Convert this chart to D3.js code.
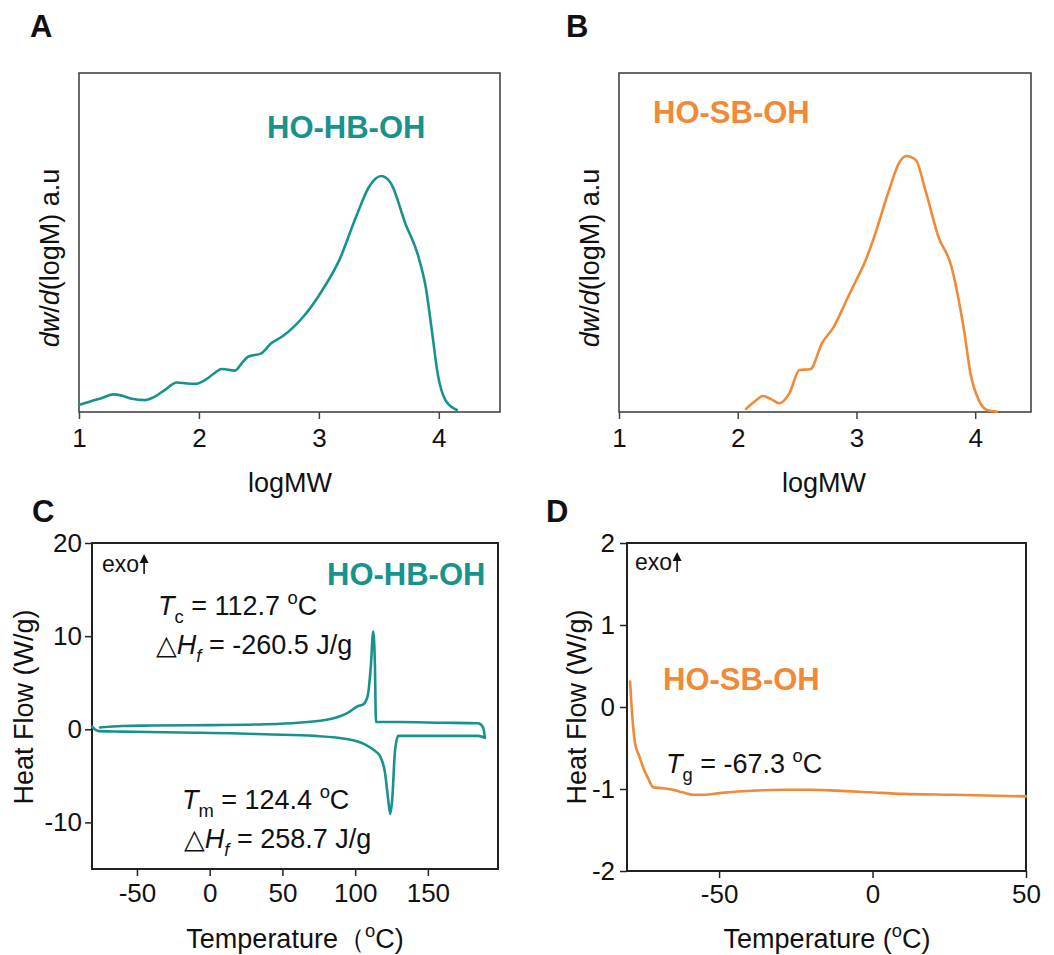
<!DOCTYPE html>
<html>
<head>
<meta charset="utf-8">
<script src="https://cdn.jsdelivr.net/npm/d3@7"></script>
<style>
  body { margin: 0; background: #fff; }
  svg { font-family: "Liberation Sans", Arial, sans-serif; }
</style>
</head>
<body>
<svg id="chart" width="1054" height="955"></svg>
<script>
/*global d3*/

// ---- data ----
// A: GPC trace of HO-HB-OH (logMW vs dw/dlogM, arbitrary units 0-100)
const gpcHBx = [1.0, 1.1, 1.18, 1.29, 1.36, 1.44, 1.55, 1.62, 1.72, 1.815, 1.9, 1.97, 2.04, 2.12, 2.19, 2.3, 2.36, 2.41, 2.52, 2.6, 2.7, 2.87, 3.03, 3.17, 3.31, 3.42, 3.52, 3.6, 3.72, 3.83, 3.89, 3.945, 3.99, 4.055, 4.15]
const gpcHBy = [2.1, 3.2, 4.0, 5.2, 4.8, 3.9, 3.5, 4.3, 6.6, 8.7, 8.4, 8.3, 9.2, 11.2, 12.7, 12.2, 14.5, 16.3, 17.3, 20.2, 22.4, 28.1, 36, 44.8, 57.6, 66.5, 69.6, 67.5, 55.7, 45.8, 37, 23.2, 11.4, 3.5, 0.6]

// B: GPC trace of HO-SB-OH
const gpcSBx = [2.07, 2.14, 2.215, 2.28, 2.35, 2.435, 2.52, 2.61, 2.71, 2.81, 2.93, 3.0, 3.08, 3.14, 3.275, 3.358, 3.42, 3.5, 3.58, 3.69, 3.8, 3.85, 3.91, 3.96, 4.03, 4.1, 4.18]
const gpcSBy = [0.9, 3.0, 4.7, 3.8, 2.6, 5.5, 12.4, 12.6, 20.3, 25.2, 34, 39, 45, 50.7, 65.5, 73.4, 75.5, 74.3, 65.5, 51.7, 42.9, 35, 23.2, 11.4, 3.5, 0.6, 0.1]

// C: DSC of HO-HB-OH, heating (lower) and cooling (upper) traces
const heatT = [-80.9, -78.5, -76, -60, -20, 20, 38, 72.3, 95.2, 106.7, 113.6, 117, 120.5, 122.7, 124.1, 125.5, 127.3, 129.6, 160, 184.6, 189.2]
const heatY = [0.3, -0.05, -0.2, -0.25, -0.35, -0.45, -0.54, -0.71, -1.07, -1.61, -2.32, -2.86, -4.64, -7.5, -9.1, -7.5, -2.5, -0.71, -0.71, -0.71, -0.9]
const coolT = [189.2, 188, 184.6, 160, 129.6, 114.3, 113.6, 112.4, 110.8, 108.6, 105.5, 102.1, 95.2, 83.8, 60.9, 38, 0, -40, -60, -75.4]
const coolY = [-0.9, 0.18, 0.64, 0.7, 0.78, 0.78, 6.8, 10.5, 6.8, 3.57, 2.68, 2.5, 1.79, 1.14, 0.71, 0.54, 0.45, 0.4, 0.35, 0.2]

// D: DSC of HO-SB-OH
const sbT = [-79, -78.3, -77.4, -76, -74.7, -73, -71.4, -68.2, -65, -62, -58.4, -55, -49.7, -44, -38.9, -28, -20, -11.7, -0.9, 10, 26.3, 50]
const sbY = [0.31, -0.1, -0.44, -0.6, -0.74, -0.88, -0.98, -0.99, -1.01, -1.04, -1.07, -1.07, -1.05, -1.03, -1.02, -1.01, -1.01, -1.02, -1.04, -1.06, -1.07, -1.09]

// tick labels
const gpcTicks = [1, 2, 3, 4]
const dscCxTicks = [-50, 0, 50, 100, 150]
const dscCyTicks = [-10, 0, 10, 20]
const dscDxTicks = [-50, 0, 50]
const dscDyTicks = [-2, -1, 0, 1, 2]

const teal = "#18928d"
const orange = "#f08a38"

const svg = d3.select("#chart")

// rich text helper: parts = [{t, i, sub, sup}]
function rich(g, x, y, parts, size, attrs = {}) {
    const text = g.append("text")
        .attr("x", x)
        .attr("y", y)
        .attr("font-size", size)
        .attr("fill", "#111")
    Object.entries(attrs).forEach(([k, v]) => text.attr(k, v))
    let shift = 0
    parts.forEach(p => {
        const target = p.sub ? size * 0.3 : p.sup ? -size * 0.4 : 0
        const s = text.append("tspan")
            .attr("dy", target - shift)
            .text(p.t)
        shift = target
        if (p.i) s.attr("font-style", "italic")
        if (p.sub || p.sup) s.attr("font-size", size * 0.68)
        if (p.f) s.attr("font-family", p.f)
    })
    return text
}

function frame(box, xDomain, yDomain, opts) {
    const x = d3.scaleLinear().domain(xDomain).range([box.x0, box.x1])
    const y = d3.scaleLinear().domain(yDomain).range([box.y1, box.y0])
    const g = svg.append("g")

    const xAxis = g.append("g")
        .attr("transform", `translate(0,${box.y1})`)
        .call(d3.axisBottom(x).tickValues(opts.xTicks).tickSize(7)
            .tickPadding(opts.xPad).tickFormat(d3.format("d")).tickSizeOuter(0))
    xAxis.select(".domain").remove()
    xAxis.selectAll("line").attr("stroke", opts.stroke).attr("stroke-width", 1.5)
    xAxis.selectAll("text")
        .attr("font-family", "Liberation Sans, Arial, sans-serif")
        .attr("font-size", 26).attr("fill", "#111")

    if (opts.yTicks) {
        const yAxis = g.append("g")
            .attr("transform", `translate(${box.x0},0)`)
            .call(d3.axisLeft(y).tickValues(opts.yTicks).tickSize(7)
                .tickPadding(opts.yPad).tickFormat(d3.format("d")).tickSizeOuter(0))
        yAxis.select(".domain").remove()
        yAxis.selectAll("line").attr("stroke", opts.stroke).attr("stroke-width", 1.5)
        yAxis.selectAll("text")
            .attr("font-family", "Liberation Sans, Arial, sans-serif")
            .attr("font-size", 26).attr("fill", "#111")
            .text(d => d < 0 ? "-" + Math.abs(d) : d)
    }
    xAxis.selectAll("text").text(d => d < 0 ? "-" + Math.abs(d) : d)

    g.append("rect")
        .attr("x", box.x0).attr("y", box.y0)
        .attr("width", box.x1 - box.x0).attr("height", box.y1 - box.y0)
        .attr("fill", "none")
        .attr("stroke", opts.stroke)
        .attr("stroke-width", opts.boxWidth)
    return { g, x, y }
}

function trace(f, xs, ys, color) {
    const pts = xs.map((v, i) => [v, ys[i]])
    f.g.append("path")
        .datum(pts)
        .attr("d", d3.line()
            .x(d => f.x(d[0]))
            .y(d => f.y(d[1]))
            .curve(d3.curveMonotoneX))
        .attr("fill", "none")
        .attr("stroke", color)
        .attr("stroke-width", 2.6)
        .attr("stroke-linejoin", "round")
        .attr("stroke-linecap", "round")
}

function panelLetter(x, y, s) {
    svg.append("text").attr("x", x).attr("y", y)
        .attr("font-size", 31).attr("font-weight", "bold").attr("fill", "#111")
        .text(s)
}

function sampleLabel(g, x, y, s, color) {
    g.append("text").attr("x", x).attr("y", y)
        .attr("font-size", 31).attr("font-weight", "bold").attr("fill", color)
        .text(s)
}

function yLabel(x, y, parts) {
    const t = rich(svg, 0, 0, parts, 27, { "text-anchor": "middle" })
    t.attr("transform", `translate(${x},${y}) rotate(-90)`)
}

function exo(g, x, y) {
    const t = g.append("text").attr("x", x).attr("y", y)
        .attr("font-size", 23).attr("fill", "#111").text("exo")
    const ax = x + t.node().getComputedTextLength() + 5
    g.append("line").attr("x1", ax).attr("x2", ax)
        .attr("y1", y + 2).attr("y2", y - 12)
        .attr("stroke", "#111").attr("stroke-width", 1.6)
    g.append("path")
        .attr("d", `M${ax - 4.5},${y - 9}L${ax},${y - 18}L${ax + 4.5},${y - 9}Z`)
        .attr("fill", "#111")
}

// ---- Panel A ----
const fA = frame({ x0: 79, x1: 500, y0: 73, y1: 412 }, [1, 4.51], [0, 100],
    { xTicks: gpcTicks, xPad: 9.5, stroke: "#444", boxWidth: 1.6 })
trace(fA, gpcHBx, gpcHBy, teal)
sampleLabel(fA.g, 267, 138, "HO-HB-OH", teal)
panelLetter(30, 37, "A")
svg.append("text").attr("x", 290).attr("y", 492).attr("text-anchor", "middle")
    .attr("font-size", 27).attr("fill", "#111").text("logMW")
yLabel(59, 258, [{ t: "dw", i: true }, { t: "/" }, { t: "d", i: true }, { t: "(logM) a.u" }])

// ---- Panel B ----
const fB = frame({ x0: 619, x1: 1031, y0: 73, y1: 412 }, [1, 4.47], [0, 100],
    { xTicks: gpcTicks, xPad: 9.5, stroke: "#444", boxWidth: 1.6 })
trace(fB, gpcSBx, gpcSBy, orange)
sampleLabel(fB.g, 653, 123, "HO-SB-OH", orange)
panelLetter(566, 37, "B")
svg.append("text").attr("x", 824).attr("y", 492).attr("text-anchor", "middle")
    .attr("font-size", 27).attr("fill", "#111").text("logMW")
yLabel(599, 258, [{ t: "dw", i: true }, { t: "/" }, { t: "d", i: true }, { t: "(logM) a.u" }])

// ---- Panel C ----
const fC = frame({ x0: 92, x1: 498, y0: 543, y1: 869 }, [-80.9, 198.2], [-15, 20],
    { xTicks: dscCxTicks, yTicks: dscCyTicks, xPad: 7.5, yPad: 3, stroke: "#222", boxWidth: 2 })
trace(fC, heatT, heatY, teal)
trace(fC, coolT, coolY, teal)
sampleLabel(fC.g, 327, 585, "HO-HB-OH", teal)
exo(fC.g, 102, 572)
rich(fC.g, 158, 615, [{ t: "T", i: true }, { t: "c", sub: true }, { t: " = 112.7 " }, { t: "o", sup: true }, { t: "C" }], 27)
rich(fC.g, 156, 654, [{ t: "△", f: "DejaVu Sans" }, { t: "H", i: true }, { t: "f", i: true, sub: true }, { t: " = -260.5 J/g" }], 27)
rich(fC.g, 182, 809, [{ t: "T", i: true }, { t: "m", sub: true }, { t: " = 124.4 " }, { t: "o", sup: true }, { t: "C" }], 27)
rich(fC.g, 184, 848, [{ t: "△", f: "DejaVu Sans" }, { t: "H", i: true }, { t: "f", i: true, sub: true }, { t: " = 258.7 J/g" }], 27)
panelLetter(32, 522, "C")
rich(svg, 295, 948, [{ t: "Temperature（" }, { t: "o", sup: true }, { t: "C)" }], 27, { "text-anchor": "middle" })
yLabel(33, 707, [{ t: "Heat Flow (W/g)" }])

// ---- Panel D ----
const fD = frame({ x0: 627, x1: 1026, y0: 543, y1: 871 }, [-80, 50], [-2, 2],
    { xTicks: dscDxTicks, yTicks: dscDyTicks, xPad: 6.5, yPad: 5, stroke: "#222", boxWidth: 2 })
trace(fD, sbT, sbY, orange)
sampleLabel(fD.g, 663, 690, "HO-SB-OH", orange)
exo(fD.g, 635, 570)
rich(fD.g, 666, 773, [{ t: "T", i: true }, { t: "g", sub: true }, { t: " = -67.3 " }, { t: "o", sup: true }, { t: "C" }], 27)
panelLetter(546, 522, "D")
rich(svg, 827, 948, [{ t: "Temperature (" }, { t: "o", sup: true }, { t: "C)" }], 27, { "text-anchor": "middle" })
yLabel(586, 707, [{ t: "Heat Flow (W/g)" }])
</script>
</body>
</html>
